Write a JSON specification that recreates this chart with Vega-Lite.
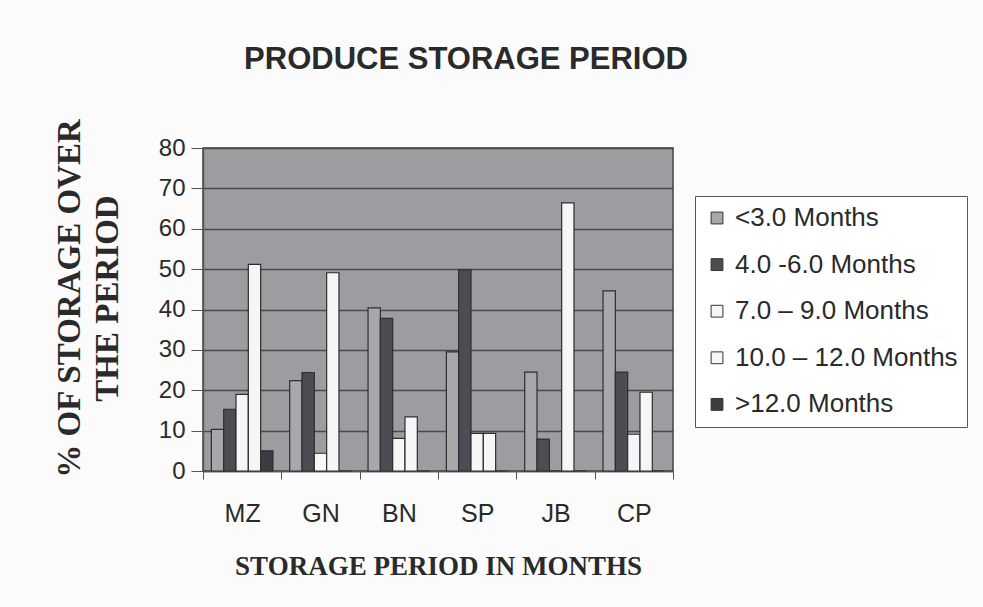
{
  "$schema": "https://vega.github.io/schema/vega-lite/v6.json",
  "width": 470,
  "height": 323,
  "autosize": {"type": "none"},
  "padding": {"left": 203, "top": 148, "right": 310, "bottom": 136},
  "background": "#fbfbfb",
  "title": {
    "text": "PRODUCE STORAGE PERIOD",
    "font": "Liberation Sans",
    "fontSize": 31,
    "fontWeight": "bold",
    "color": "#2a2a2a",
    "anchor": "middle",
    "frame": "group",
    "dx": 28,
    "offset": 42
  },
  "data": {
    "values": [
      {"crop": "MZ", "period": "<3.0 Months", "pct": 10.3},
      {"crop": "MZ", "period": "4.0 -6.0 Months", "pct": 15.3},
      {"crop": "MZ", "period": "7.0 – 9.0 Months", "pct": 19},
      {"crop": "MZ", "period": "10.0 – 12.0 Months", "pct": 51.2},
      {"crop": "MZ", "period": ">12.0 Months", "pct": 5},
      {"crop": "GN", "period": "<3.0 Months", "pct": 22.4},
      {"crop": "GN", "period": "4.0 -6.0 Months", "pct": 24.4},
      {"crop": "GN", "period": "7.0 – 9.0 Months", "pct": 4.4},
      {"crop": "GN", "period": "10.0 – 12.0 Months", "pct": 49.1},
      {"crop": "GN", "period": ">12.0 Months", "pct": 0},
      {"crop": "BN", "period": "<3.0 Months", "pct": 40.4},
      {"crop": "BN", "period": "4.0 -6.0 Months", "pct": 37.8},
      {"crop": "BN", "period": "7.0 – 9.0 Months", "pct": 8.1},
      {"crop": "BN", "period": "10.0 – 12.0 Months", "pct": 13.4},
      {"crop": "BN", "period": ">12.0 Months", "pct": 0},
      {"crop": "SP", "period": "<3.0 Months", "pct": 29.5},
      {"crop": "SP", "period": "4.0 -6.0 Months", "pct": 49.8},
      {"crop": "SP", "period": "7.0 – 9.0 Months", "pct": 9.3},
      {"crop": "SP", "period": "10.0 – 12.0 Months", "pct": 9.3},
      {"crop": "SP", "period": ">12.0 Months", "pct": 0},
      {"crop": "JB", "period": "<3.0 Months", "pct": 24.5},
      {"crop": "JB", "period": "4.0 -6.0 Months", "pct": 7.9},
      {"crop": "JB", "period": "7.0 – 9.0 Months", "pct": 0},
      {"crop": "JB", "period": "10.0 – 12.0 Months", "pct": 66.4},
      {"crop": "JB", "period": ">12.0 Months", "pct": 0},
      {"crop": "CP", "period": "<3.0 Months", "pct": 44.6},
      {"crop": "CP", "period": "4.0 -6.0 Months", "pct": 24.5},
      {"crop": "CP", "period": "7.0 – 9.0 Months", "pct": 9.1},
      {"crop": "CP", "period": "10.0 – 12.0 Months", "pct": 19.5},
      {"crop": "CP", "period": ">12.0 Months", "pct": 0}
    ]
  },
  "mark": {"type": "bar", "stroke": "#2e2e2e", "strokeWidth": 1.2},
  "encoding": {
    "x": {
      "field": "crop",
      "type": "nominal",
      "sort": ["MZ", "GN", "BN", "SP", "JB", "CP"],
      "scale": {"paddingInner": 0, "paddingOuter": 0},
      "axis": {
        "title": "STORAGE PERIOD IN MONTHS",
        "titleFont": "Liberation Serif",
        "titleFontSize": 27,
        "titleFontWeight": "bold",
        "titleColor": "#2a2a2a",
        "titlePadding": 27,
        "labelAngle": 0,
        "labelFont": "Liberation Sans",
        "labelFontSize": 25,
        "labelColor": "#2a2a2a",
        "labelPadding": 22,
        "tickBand": "extent",
        "tickSize": 8,
        "tickColor": "#555",
        "domainColor": "#555",
        "domainWidth": 1.5
      }
    },
    "xOffset": {
      "field": "period",
      "type": "nominal",
      "sort": ["<3.0 Months", "4.0 -6.0 Months", "7.0 – 9.0 Months", "10.0 – 12.0 Months", ">12.0 Months"],
      "scale": {"paddingInner": 0, "paddingOuter": 0.68}
    },
    "y": {
      "field": "pct",
      "type": "quantitative",
      "scale": {"domain": [0, 80]},
      "axis": {
        "title": ["% OF STORAGE OVER", "THE PERIOD"],
        "titleFont": "Liberation Serif",
        "titleFontSize": 33,
        "titleFontWeight": "bold",
        "titleColor": "#2a2a2a",
        "titleLineHeight": 38,
        "titlePadding": 34,
        "titleY": 150,
        "values": [0, 10, 20, 30, 40, 50, 60, 70, 80],
        "labelFont": "Liberation Sans",
        "labelFontSize": 24,
        "labelColor": "#2a2a2a",
        "labelPadding": 6,
        "tickSize": 12,
        "tickColor": "#555",
        "domainColor": "#555",
        "domainWidth": 1.5,
        "grid": true,
        "gridColor": "#4a4a4a",
        "gridWidth": 1.3
      }
    },
    "fill": {
      "field": "period",
      "type": "nominal",
      "sort": ["<3.0 Months", "4.0 -6.0 Months", "7.0 – 9.0 Months", "10.0 – 12.0 Months", ">12.0 Months"],
      "scale": {
        "domain": ["<3.0 Months", "4.0 -6.0 Months", "7.0 – 9.0 Months", "10.0 – 12.0 Months", ">12.0 Months"],
        "range": ["#a8a8ac", "#4c4c54", "#f6f6f6", "#f6f6f6", "#3c3c44"]
      },
      "legend": {
        "title": null,
        "orient": "none",
        "legendX": 492,
        "legendY": 48,
        "symbolType": "square",
        "symbolSize": 140,
        "symbolStrokeColor": "#333",
        "symbolStrokeWidth": 1,
        "labelFont": "Liberation Sans",
        "labelFontSize": 26,
        "labelColor": "#2a2a2a",
        "labelOffset": 5,
        "rowPadding": 20.6,
        "padding": 9,
        "fillColor": "#ffffff",
        "strokeColor": "#555",
        "labelLimit": 300
      }
    }
  },
  "config": {
    "view": {"fill": "#9d9da1", "stroke": "#444", "strokeWidth": 1.5}
  }
}
